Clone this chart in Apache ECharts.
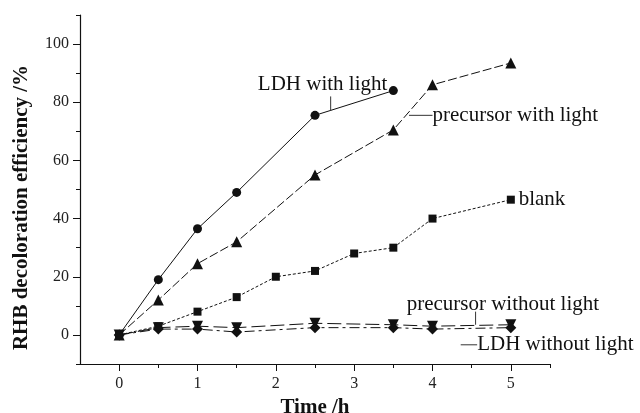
<!DOCTYPE html>
<html>
<head>
<meta charset="utf-8">
<script src="https://cdn.jsdelivr.net/npm/echarts@6.0.0/dist/echarts.min.js"></script>
<style>
  html, body { margin: 0; padding: 0; background: #fff; }
  #chart { width: 640px; height: 413px; }
</style>
</head>
<body>
<div id="chart"></div>
<script>
// values
const ldhLightX = [0, 0.5, 1, 1.5, 2.5, 3.5];
const ldhLightY = [0, 19, 36.5, 49, 75.5, 84];
const preLightX = [0, 0.5, 1, 1.5, 2.5, 3.5, 4, 5];
const preLightY = [0, 12, 24.5, 32, 55, 70.5, 86, 93.5];
const blankX = [0, 0.5, 1, 1.5, 2, 2.5, 3, 3.5, 4, 5];
const blankY = [0, 3, 8, 13, 20, 22, 28, 30, 40, 46.5];
const preDarkX = [0, 0.5, 1, 1.5, 2.5, 3.5, 4, 5];
const preDarkY = [0, 2.5, 3, 2.5, 4, 3.5, 3, 3.5];
const ldhDarkX = [0, 0.5, 1, 1.5, 2.5, 3.5, 4, 5];
const ldhDarkY = [0, 2, 2, 1, 2.5, 2.5, 2, 2.5];

const xMajor = [0, 1, 2, 3, 4, 5];
const xMinor = [0.5, 1.5, 2.5, 3.5, 4.5, 5.5];
const yMajor = [0, 20, 40, 60, 80, 100];
const yMinor = [-10, 10, 30, 50, 70, 90, 110];

// text labels with leader lines, in data units
const notes = [
  { text: 'LDH with light', x: 1.77, y: 86, lead: [[2.7, 82], [2.7, 77]] },
  { text: 'precursor with light', x: 4.0, y: 75.5, lead: [[3.7, 75.5], [4.0, 75.5]] },
  { text: 'blank', x: 5.1, y: 46.7, lead: null },
  { text: 'precursor without light', x: 3.67, y: 10.6, lead: [[4.55, 8], [4.55, 3.5]] },
  { text: 'LDH without light', x: 4.57, y: -3.4, lead: [[4.36, -3.4], [4.57, -3.4]] }
];

const serif = '"Liberation Serif", "Times New Roman", serif';
const black = '#111';

function pairs(xs, ys) {
  return xs.map((x, i) => [x, ys[i]]);
}

function line(name, xs, ys, symbol, size, type, rotate) {
  return {
    name: name,
    type: 'line',
    data: pairs(xs, ys),
    symbol: symbol,
    symbolSize: size,
    symbolRotate: rotate || 0,
    showSymbol: true,
    itemStyle: { color: black },
    lineStyle: { color: black, width: 1, type: type },
    z: 3
  };
}

const chart = echarts.init(document.getElementById('chart'));

chart.setOption({
  animation: false,
  backgroundColor: '#fff',
  grid: { left: 80, right: 90, top: 15, bottom: 49, outerBoundsMode: 'none', containLabel: false },
  xAxis: [{
    type: 'value',
    min: -0.5,
    max: 5.5,
    name: 'Time /h',
    nameLocation: 'middle',
    nameGap: 24,
    nameTextStyle: { fontFamily: serif, fontWeight: 'bold', fontSize: 21, color: black },
    axisLine: { onZero: false, lineStyle: { color: black, width: 1.2 } },
    axisTick: { show: true, length: 7, inside: false, customValues: xMajor, lineStyle: { color: black } },
    axisLabel: { customValues: xMajor, fontFamily: serif, fontSize: 16, color: '#222', margin: 12 },
    splitLine: { show: false }
  }, {
    type: 'value',
    min: -0.5,
    max: 5.5,
    position: 'bottom',
    axisLine: { show: false, onZero: false },
    axisTick: { show: true, length: 4, customValues: xMinor, lineStyle: { color: black } },
    axisLabel: { show: false },
    splitLine: { show: false }
  }],
  yAxis: [{
    type: 'value',
    min: -10,
    max: 110,
    name: 'RHB decoloration efficiency /%',
    nameLocation: 'middle',
    nameGap: 48,
    nameTextStyle: { fontFamily: serif, fontWeight: 'bold', fontSize: 21, color: black, padding: [0, 36, 0, 0] },
    axisLine: { show: true, onZero: false, lineStyle: { color: black, width: 1.2 } },
    axisTick: { show: true, length: 7, customValues: yMajor, lineStyle: { color: black } },
    axisLabel: { customValues: yMajor, fontFamily: serif, fontSize: 16, color: '#222', margin: 11 },
    splitLine: { show: false }
  }, {
    type: 'value',
    min: -10,
    max: 110,
    position: 'left',
    axisLine: { show: false, onZero: false },
    axisTick: { show: true, length: 4, customValues: yMinor, lineStyle: { color: black } },
    axisLabel: { show: false },
    splitLine: { show: false }
  }],
  series: [
    line('LDH with light', ldhLightX, ldhLightY, 'circle', 9, 'solid'),
    line('precursor with light', preLightX, preLightY, 'triangle', 11, [9, 3]),
    line('blank', blankX, blankY, 'rect', 8, [3, 2]),
    line('precursor without light', preDarkX, preDarkY, 'triangle', 11, [14, 5], 180),
    line('LDH without light', ldhDarkX, ldhDarkY, 'diamond', 11, [10, 4, 3, 4])
  ]
});

// place the annotation texts from data coordinates
const graphics = [];
notes.forEach(n => {
  const p = chart.convertToPixel({ gridIndex: 0 }, [n.x, n.y]);
  graphics.push({
    type: 'text',
    x: p[0],
    y: p[1],
    style: {
      text: n.text,
      font: '21px ' + serif,
      fill: black,
      align: 'left',
      verticalAlign: 'middle'
    },
    z: 10
  });
  if (n.lead) {
    const a = chart.convertToPixel({ gridIndex: 0 }, n.lead[0]);
    const b = chart.convertToPixel({ gridIndex: 0 }, n.lead[1]);
    graphics.push({
      type: 'line',
      shape: { x1: a[0], y1: a[1], x2: b[0], y2: b[1] },
      style: { stroke: '#333', lineWidth: 1 },
      z: 10
    });
  }
});
chart.setOption({ graphic: graphics });
</script>
</body>
</html>
